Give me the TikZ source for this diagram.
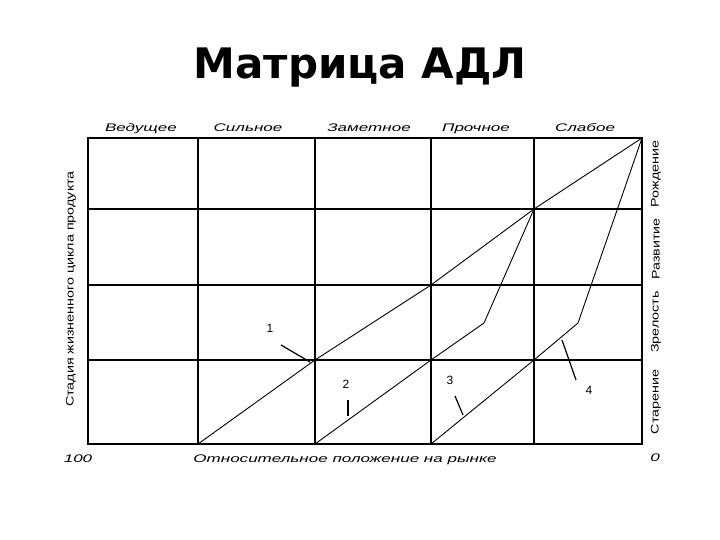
\documentclass[tikz,border=0pt]{standalone}
\usepackage{fontspec}
\setmainfont{Liberation Sans}
\newfontfamily\titlefont{DejaVu Sans}
\newfontfamily\widefont[FakeStretch=1.55]{Liberation Sans}
\newfontfamily\sidefont[FakeStretch=1.3]{Liberation Sans}

\begin{document}
\begin{tikzpicture}[x=1pt, y=-1pt,
		grid/.style={line width=1.6pt},
		curve/.style={line width=0.9pt},
		leader/.style={line width=1.2pt},
		toplabel/.style={font=\widefont\itshape\fontsize{11}{13}\selectfont, inner sep=0pt, anchor=base},
		sidelabel/.style={font=\sidefont\fontsize{11}{13}\selectfont, inner sep=0pt, rotate=90},
		numlabel/.style={font=\fontsize{12}{14}\selectfont, inner sep=0pt}]
		\useasboundingbox (0,0) rectangle (720,540);
		
		%title
		\node (title) at (360,68) {\titlefont\bfseries\fontsize{42}{50}\selectfont Матрица АДЛ};
		
		%grid points
		\foreach \x [count=\i from 0] in {88, 198, 315, 431, 534, 642}{
			\foreach \y [count=\j from 0] in {138, 209, 285, 360, 444}{
				\coordinate (g\i-\j) at (\x, \y);
			}
		}
		
		%matrix
		\draw[grid] (g0-0) rectangle (g5-4);
		\foreach \i in {1, 2, 3, 4}{
			\draw[grid] (g\i-0) -- (g\i-4);
		}
		\foreach \j in {1, 2, 3}{
			\draw[grid] (g0-\j) -- (g5-\j);
		}
		
		%columns
		\node[toplabel] (lead) at (141, 132){Ведущее};
		\node[toplabel] (strong) at (248, 132){Сильное};
		\node[toplabel] (notable) at (369, 132){Заметное};
		\node[toplabel] (firm) at (476, 132){Прочное};
		\node[toplabel] (weak) at (585, 132){Слабое};
		
		%rows
		\node[sidelabel] (birth) at (656, 174){Рождение};
		\node[sidelabel] (growth) at (656, 249){Развитие};
		\node[sidelabel] (mature) at (656, 322){Зрелость};
		\node[sidelabel] (aging) at (656, 402){Старение};
		\node[sidelabel] (stage) at (71, 289){Стадия жизненного цикла продукта};
		
		%position axis
		\node[toplabel] (hundred) at (78, 462){100};
		\node[toplabel] (position) at (345, 462){Относительное положение на рынке};
		\node[toplabel] (zero) at (655, 461){0};
		
		%curves
		\coordinate (k2) at (484, 323);
		\coordinate (k3) at (578, 323);
		\draw[curve] (g1-4) -- (g2-3) -- (g3-2) -- (g4-1) -- (g5-0);
		\draw[curve] (g2-4) -- (g3-3) -- (k2) -- (g4-1);
		\draw[curve] (g3-4) -- (g4-3) -- (k3) -- (g5-0);
		
		%numbers
		\node[numlabel] (n1) at (270, 328){1};
		\node[numlabel] (n2) at (346, 384){2};
		\node[numlabel] (n3) at (450, 380){3};
		\node[numlabel] (n4) at (589, 390){4};
		\coordinate (a1) at (281, 345);
		\coordinate (b1) at (310, 362);
		\coordinate (a2) at (348, 400);
		\coordinate (b2) at (348, 416);
		\coordinate (a3) at (455, 396);
		\coordinate (b3) at (463, 415);
		\coordinate (a4) at (576, 380);
		\coordinate (b4) at (562, 340);
		\draw[leader] (a1) -- (b1);
		\draw[leader] (a2) -- (b2);
		\draw[leader] (a3) -- (b3);
		\draw[leader] (a4) -- (b4);
	\end{tikzpicture}
\end{document}
